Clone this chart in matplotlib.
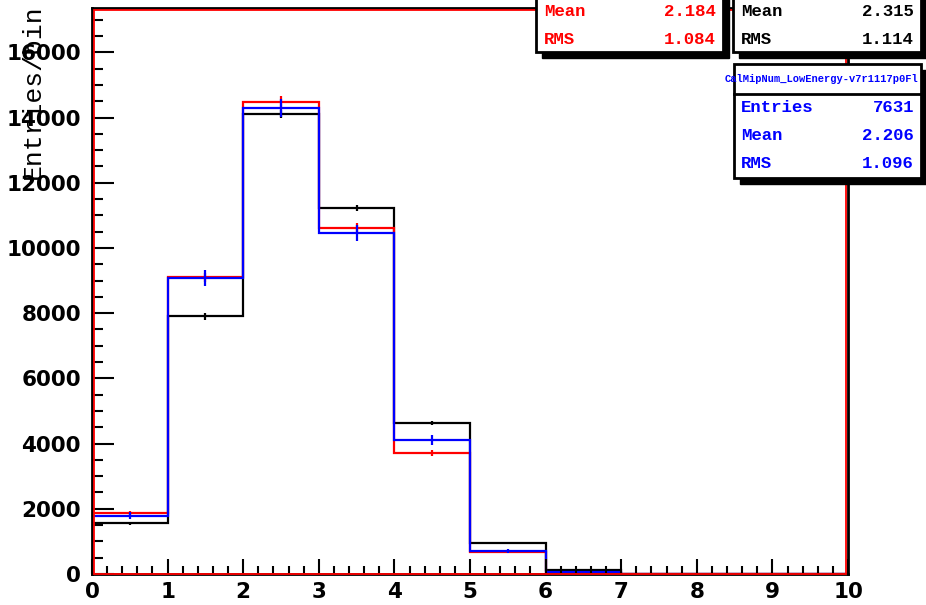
import numpy as np
import matplotlib.pyplot as plt
from matplotlib.patches import Rectangle
from matplotlib.ticker import MultipleLocator

# bin edges and contents (scaled histograms)
edges = np.arange(0, 11, 1)
black_vals = [1560, 7910, 14110, 11230, 4630, 950, 120, 0, 0, 0]
red_vals = [1870, 9100, 14480, 10620, 3700, 680, 40, 0, 0, 0]
blue_vals = [1790, 9070, 14300, 10460, 4110, 710, 50, 0, 0, 0]
black_err = [50, 110, 120, 85, 55, 25, 8, 0, 0, 0]
red_err = [70, 140, 180, 155, 90, 40, 8, 0, 0, 0]
blue_err = [110, 240, 270, 240, 150, 60, 15, 0, 0, 0]

W, H = 926, 605
fig = plt.figure(figsize=(W / 100, H / 100), dpi=100)
ax = fig.add_axes([92 / W, 1 - 574 / H, (848 - 92) / W, (574 - 8) / H])

centers = 0.5 * (edges[:-1] + edges[1:])
for vals, err, col in [(black_vals, black_err, 'black'),
                       (red_vals, red_err, '#ff0000'),
                       (blue_vals, blue_err, '#0000ff')]:
    ax.stairs(vals, edges, baseline=0, color=col, lw=1.6)
    ax.errorbar(centers, vals, yerr=err, fmt='none', ecolor=col, elinewidth=1.6, capsize=0)

ax.set_xlim(0, 10)
ax.set_ylim(0, 17360)
ax.xaxis.set_major_locator(MultipleLocator(1))
ax.xaxis.set_minor_locator(MultipleLocator(0.2))
ax.yaxis.set_major_locator(MultipleLocator(2000))
ax.yaxis.set_minor_locator(MultipleLocator(500))
ax.tick_params(axis='x', which='major', direction='in', length=11, width=1.5, pad=6)
ax.tick_params(axis='x', which='minor', direction='in', length=5.5, width=1.5)
ax.tick_params(axis='y', which='major', direction='in', length=16, width=1.5, pad=8)
ax.tick_params(axis='y', which='minor', direction='in', length=8, width=1.5)
for lab in ax.get_xticklabels() + ax.get_yticklabels():
    lab.set_fontfamily('DejaVu Sans')
    lab.set_fontweight('bold')
    lab.set_fontsize(15.5)
for s in ax.spines.values():
    s.set_linewidth(2)
    s.set_color('black')
# red inner frame
ax.add_patch(Rectangle((0.002, 0.0), 0.996, 0.997, transform=ax.transAxes,
                       fill=False, ec='#ff0000', lw=1.3, zorder=5, clip_on=False))

fig.text(33 / W, 1 - 92 / H, 'Entries/bin', rotation=90, ha='center', va='center',
         fontfamily='Liberation Mono', fontsize=19)


def px(x, y):
    return x / W, 1 - y / H


def statbox(x0, y0, x1, y1, color):
    # shadow then box, in figure pixels
    fig.patches.append(Rectangle(px(x0 + 6, y1 + 6), (x1 - x0) / W, (y1 - y0) / H,
                                 transform=fig.transFigure, fc='black', ec='black', zorder=10))
    fig.patches.append(Rectangle(px(x0, y1), (x1 - x0) / W, (y1 - y0) / H,
                                 transform=fig.transFigure, fc='white', ec='black', lw=2, zorder=11))


def stat_line(xl, xr, y, name, val, color):
    fig.text(*px(xl, y), name, ha='left', va='center', color=color,
             fontfamily='Liberation Mono', fontweight='bold', fontsize=12.5, zorder=12)
    fig.text(*px(xr, y), val, ha='right', va='center', color=color,
             fontfamily='Liberation Mono', fontweight='bold', fontsize=12.5, zorder=12)


# red box
statbox(536, -10, 723, 52, 'red')
stat_line(544, 716, 11, 'Mean', '2.184', '#ff0000')
stat_line(544, 716, 40, 'RMS', '1.084', '#ff0000')
# black box
statbox(733, -10, 921, 52, 'black')
stat_line(741, 914, 11, 'Mean', '2.315', 'black')
stat_line(741, 914, 40, 'RMS', '1.114', 'black')
# blue box
statbox(734, 64, 921, 178, 'blue')
fig.lines.append(plt.Line2D([734 / W, 921 / W], [1 - 94 / H, 1 - 94 / H],
                            transform=fig.transFigure, color='black', lw=2, zorder=12))
fig.text(*px(725, 79), 'CalMipNum_LowEnergy-v7r1117p0Fl', ha='left', va='center',
         color='#0000ff', fontfamily='Liberation Mono', fontweight='bold', fontsize=7.5, zorder=12)
stat_line(741, 914, 108, 'Entries', '7631', '#0000ff')
stat_line(741, 914, 135, 'Mean', '2.206', '#0000ff')
stat_line(741, 914, 163, 'RMS', '1.096', '#0000ff')

fig.savefig('out.png', dpi=100)
